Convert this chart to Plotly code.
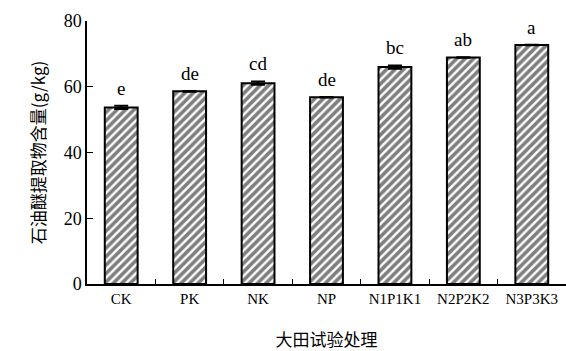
import plotly.graph_objects as go

categories = ["CK", "PK", "NK", "NP", "N1P1K1", "N2P2K2", "N3P3K3"]
values = [53.7, 58.6, 61.1, 56.8, 66.0, 68.9, 72.7]
errors = [0.5, 0.1, 0.5, 0.1, 0.5, 0.1, 0.1]
letters = ["e", "de", "cd", "de", "bc", "ab", "a"]
y_ticks = [0, 20, 40, 60, 80]

serif = "Liberation Serif, Times New Roman, serif"
cjk = "Noto Sans CJK SC"

fig = go.Figure()
fig.add_trace(go.Bar(
    x=categories,
    y=values,
    width=0.48,
    marker=dict(
        color="white",
        line=dict(color="black", width=2),
        pattern=dict(shape="/", fgcolor="black", bgcolor="white", size=6, solidity=0.6),
    ),
    error_y=dict(type="data", array=errors, visible=True, color="black", thickness=2, width=7),
))

for c, v, e, t in zip(categories, values, errors, letters):
    fig.add_annotation(x=c, y=v + e, text=t, showarrow=False, yanchor="bottom",
                       yshift=5, font=dict(family=serif, size=19, color="black"))

fig.update_layout(
    width=566, height=351,
    margin=dict(l=87, r=0, t=21, b=67),
    paper_bgcolor="white", plot_bgcolor="white",
    showlegend=False,
)
fig.update_xaxes(
    type="category",
    showline=True, linecolor="black", linewidth=1.5,
    ticks="inside", ticklen=5, tickcolor="black", tickson="boundaries",
    tickfont=dict(family=serif, size=15, color="black"),
    title=dict(text="大田试验处理", font=dict(family=cjk, size=17, color="black"), standoff=28),
)
fig.update_yaxes(
    range=[0, 80], tickvals=y_ticks,
    showline=True, linecolor="black", linewidth=1.5,
    ticks="inside", ticklen=6, tickcolor="black",
    showgrid=False, zeroline=False,
    tickfont=dict(family=serif, size=18, color="black"),
    title=dict(text="石油醚提取物含量(g/kg)", font=dict(family=cjk, size=17, color="black"), standoff=14),
)

fig.write_html("out.html")
